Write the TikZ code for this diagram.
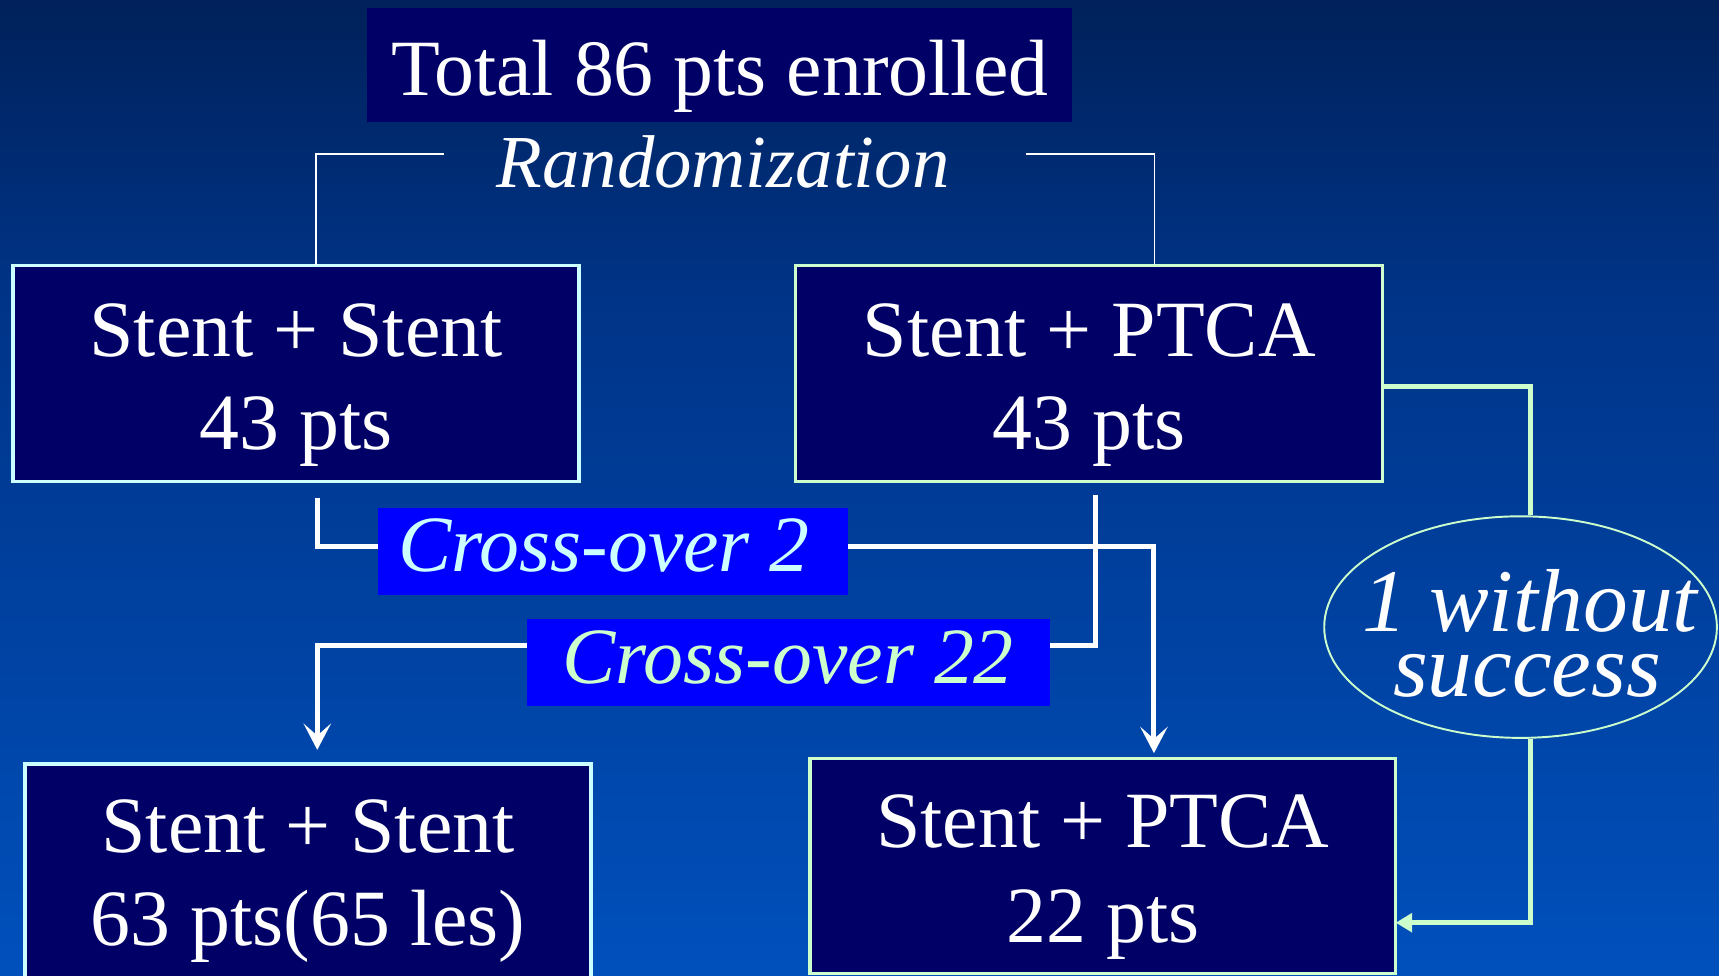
\documentclass[tikz,border=0pt]{standalone}
\usepackage{fontspec}
\setmainfont{Liberation Serif}
\usetikzlibrary{arrows.meta,shapes.geometric}
\definecolor{bgtop}{RGB}{0,33,90}
\definecolor{bgmid}{RGB}{0,52,136}
\definecolor{bgbot}{RGB}{0,80,188}
\definecolor{navy}{RGB}{0,0,102}
\definecolor{paleblue}{RGB}{204,255,255}
\definecolor{palegreen}{RGB}{204,255,204}
\definecolor{labelblue}{RGB}{0,0,255}
\begin{document}
\begin{tikzpicture}[x=0.01cm,y=-0.01cm,
  panel/.style={rectangle, fill=navy, inner sep=0pt, outer sep=0pt, line width=0.86pt},
  tag/.style={rectangle, fill=labelblue, inner sep=0pt, outer sep=0pt},
  txt/.style={inner sep=0pt, anchor=base, text=white, font=\fontsize{20.7}{24}\selectfont},
  ittxt/.style={txt, font=\fontsize{20.7}{24}\selectfont\itshape},
  wire/.style={white, line width=1.3pt},
  wirearrow/.style={wire, -{Stealth[length=0.24cm,width=0.25cm,inset=0.11cm]}},
  gwire/.style={palegreen, line width=1.3pt},
  bracket/.style={white, line width=0.45pt}
]
\useasboundingbox (0,0) rectangle (1568,890);
\begin{scope}
\clip (0,0) rectangle (1568,890);
% background gradient
\shade[top color=bgtop, bottom color=bgmid] (0,0) rectangle (1568,274.5);
\shade[top color=bgmid, bottom color=bgbot] (0,273.5) rectangle (1568,890);

% title
\node[panel, minimum width=6.43cm, minimum height=1.04cm] (top) at (656.5,59) {};
\node[txt] (topT) at (656.5,87) {Total 86 pts enrolled};
\node[ittxt, font=\fontsize{19.4}{22}\selectfont\itshape] (rand) at (659.5,171) {Randomization};

% arms after randomization
\node[panel, draw=paleblue, minimum width=5.16cm, minimum height=1.97cm] (L1) at (270,340.5) {};
\node[txt] (L1a) at (270,325) {Stent + Stent};
\node[txt] (L1b) at (270,410) {43 pts};
\node[panel, draw=palegreen, minimum width=5.35cm, minimum height=1.97cm] (R1) at (993.5,340.5) {};
\node[txt] (R1a) at (993.5,325) {Stent + PTCA};
\node[txt] (R1b) at (993.5,410) {43 pts};

% final groups
\node[panel, draw=paleblue, minimum width=5.16cm, minimum height=2.06cm] (L2) at (281,800) {};
\node[txt] (L2a) at (281,778) {Stent + Stent};
\node[txt] (L2b) at (281,862) {63 pts(65 les)};
\node[panel, draw=palegreen, minimum width=5.34cm, minimum height=1.96cm] (R2) at (1006,790) {};
\node[txt] (R2a) at (1006,773) {Stent + PTCA};
\node[txt] (R2b) at (1006,860) {22 pts};

% failure note
\node[ellipse, draw=palegreen, line width=0.5pt, inner sep=0pt, minimum width=3.58cm, minimum height=2.02cm] (ell) at (1387,572) {};
\node[ittxt, font=\fontsize{23.2}{17}\selectfont\itshape] (e1) at (1395.5,575.6) {1 without};
\node[ittxt, font=\fontsize{23.2}{17}\selectfont\itshape] (e2) at (1393,635.6) {success};

% cross-over labels
\node[tag, minimum width=4.29cm, minimum height=0.79cm] (co2) at (559,503) {};
\node[ittxt, text=paleblue] (co2T) at (551,521.5) {Cross-over 2};
\node[tag, minimum width=4.77cm, minimum height=0.79cm] (co22) at (719,604.5) {};
\node[ittxt, text=palegreen] (co22T) at (719,623) {Cross-over 22};

% randomization bracket
\coordinate (brL) at (405,140.5);
\coordinate (brR) at (936,140.5);
\draw[bracket] (brL) -| ([xshift=0.18cm]L1.north);
\draw[bracket] (brR) -| ([xshift=0.595cm]R1.north);

% cross-over paths
\coordinate (aS) at (289.4,454);
\coordinate (aE) at (1052.6,687);
\draw[wire] (aS) |- ([yshift=0.045cm]co2.west);
\draw[wirearrow] ([yshift=0.045cm]co2.east) -| (aE);
\coordinate (bS) at (999.6,451.5);
\coordinate (bE) at (289.4,684);
\draw[wire] (bS) |- ([yshift=0.155cm]co22.east);
\draw[wirearrow] ([yshift=0.155cm]co22.west) -| (bE);

% unsuccessful case path
\draw[gwire] ([yshift=-0.123cm]R1.east) -| ([xshift=0.09cm]ell.north);
\draw[gwire, -{Triangle[length=0.15cm,width=0.17cm]}] ([xshift=0.09cm]ell.south) |- ([yshift=-0.516cm]R2.east);
\end{scope}
\end{tikzpicture}
\end{document}
